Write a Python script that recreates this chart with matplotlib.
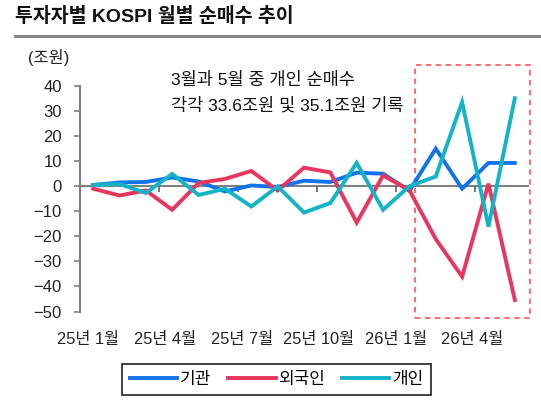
import matplotlib
matplotlib.use("Agg")
import matplotlib.pyplot as plt
import numpy as np

plt.rcParams['font.family'] = ['Liberation Sans', 'Noto Sans CJK KR']
plt.rcParams['axes.unicode_minus'] = True

# monthly net buying (조원), 25년 1월 .. 26년 5월
months = ['25년 1월', '25년 2월', '25년 3월', '25년 4월', '25년 5월', '25년 6월',
          '25년 7월', '25년 8월', '25년 9월', '25년 10월', '25년 11월', '25년 12월',
          '26년 1월', '26년 2월', '26년 3월', '26년 4월', '26년 5월']
inst = [0.5, 1.5, 1.7, 3.5, 1.9, -2.1, 0.3, -0.3, 2.2, 1.7, 5.4, 5.0,
        -1.8, 15.0, -1.0, 9.3, 9.3]
foreign = [-1.0, -3.7, -1.7, -9.4, 1.3, 2.9, 6.1, -1.7, 7.4, 5.5, -14.5, 4.3,
           -1.6, -21.1, -36.1, 1.0, -45.4]
retail = [0.5, 0.9, -2.7, 4.9, -3.5, -1.0, -8.1, -0.1, -10.5, -6.7, 9.3, -9.4,
          0.0, 3.9, 33.6, -16.1, 35.1]
yticks = [40, 30, 20, 10, 0, -10, -20, -30, -40, -50]
label_idx = [0, 3, 6, 9, 12, 15]

x = np.arange(len(months))

fig = plt.figure(figsize=(5.41, 4.08), dpi=100)
ax = fig.add_axes([80/541, 96.5/408, 448/541, 225.5/408])

ax.plot(x, inst, color='#1273EB', lw=2.8, label='기관', solid_joinstyle='miter')
ax.plot(x, foreign, color='#E8365F', lw=2.8, label='외국인', solid_joinstyle='miter')
ax.plot(x, retail, color='#14B4C8', lw=2.8, label='개인', solid_joinstyle='miter')

ax.set_xlim(-0.5, len(months) - 0.5)
ax.set_ylim(-50, 40)
ax.set_yticks(yticks)
ax.set_yticklabels([str(v).replace('-', '\u2212') for v in yticks], fontsize=12, color='#222222')
ax.tick_params(axis='y', length=4, width=1.2, color='#808080', pad=9)

for s in ['top', 'right']:
    ax.spines[s].set_visible(False)
ax.spines['left'].set_color('#808080')
ax.spines['left'].set_linewidth(1.5)
ax.spines['bottom'].set_position(('data', 0))
ax.spines['bottom'].set_color('#808080')
ax.spines['bottom'].set_linewidth(1.5)
ax.spines['bottom'].set_zorder(1)
ax.set_xticks(np.arange(2.5, len(months) - 1, 3))
ax.set_xticklabels([])
ax.tick_params(axis='x', length=4, width=1.2, color='#606060')

sec = ax.secondary_xaxis(0)
sec.set_xticks(np.linspace(-0.2, 14.4, 6))
sec.set_xticklabels([months[i] for i in label_idx], fontsize=11.8, color='#222222')
sec.tick_params(length=0, pad=15)
sec.spines['bottom'].set_visible(False)

# highlight box for 2026 months
ax.add_patch(plt.Rectangle((12.22, -52.5), 4.36, 100.7, fill=False,
                           edgecolor='#FF6060', lw=1.3, ls=(0, (3, 2.5)), clip_on=False))

ax.text(2.95, 42.5, '3월과 5월 중 개인 순매수', fontsize=12.6, va='center', color='#111111')
ax.text(2.95, 32.5, '각각 33.6조원 및 35.1조원 기록', fontsize=12.6, va='center', color='#111111')

fig.text(15/541, 1 - 16/408, '투자자별 KOSPI 월별 순매수 추이', fontsize=14, fontweight='bold',
         va='center', ha='left', color='#111111')
fig.add_artist(plt.Line2D([15/541, 1.0], [1 - 35.7/408] * 2, color='#888888', lw=2.2))
fig.text(28/541, 1 - 57/408, '(조원)', fontsize=11.8, va='center', ha='left', color='#222222')

leg = fig.legend(loc='center', bbox_to_anchor=(276.5/541, 28.5/408), ncol=3, fontsize=12.2,
                 frameon=True, fancybox=False, edgecolor='black', handlelength=2.8,
                 handletextpad=0.15, columnspacing=1.0, borderpad=0.45)
leg.get_frame().set_linewidth(1.3)

fig.savefig('out.png', dpi=100)
